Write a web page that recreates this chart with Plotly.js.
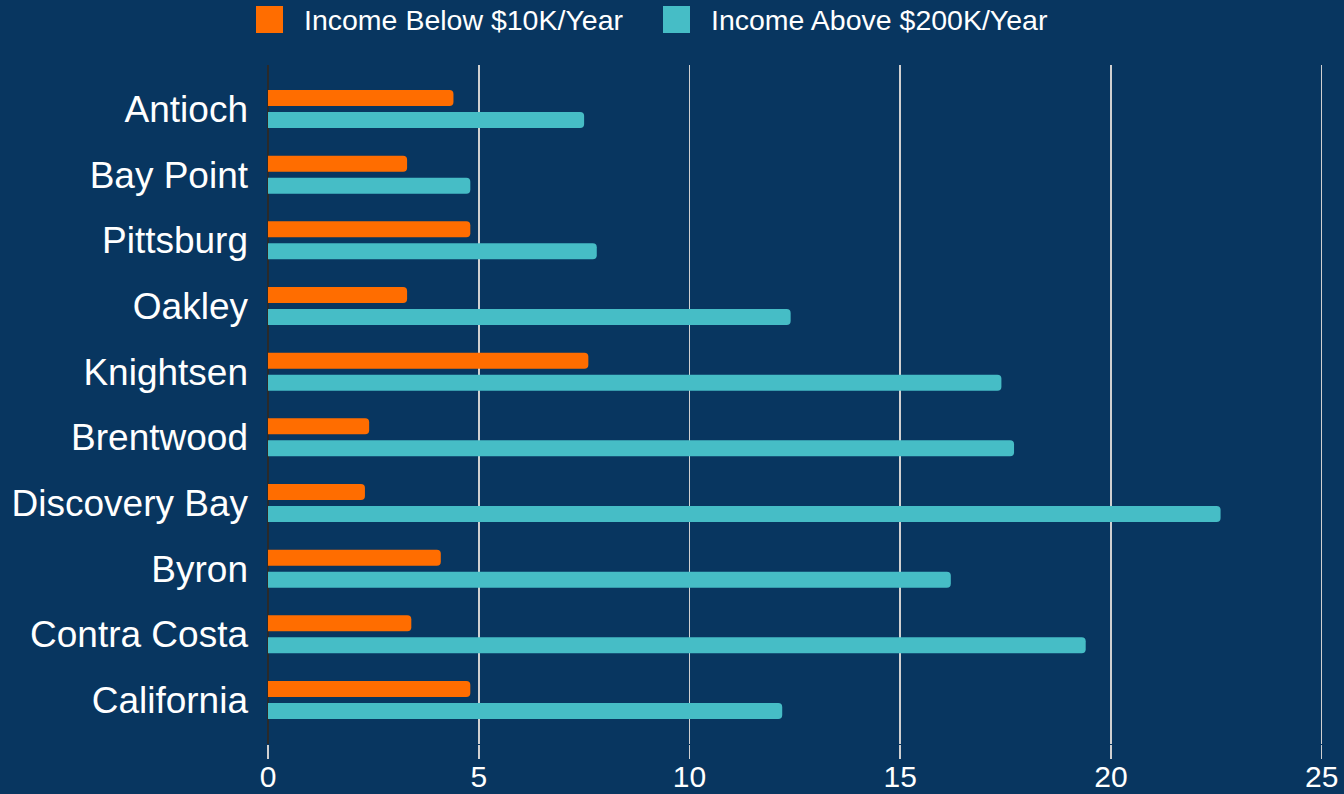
<!DOCTYPE html>
<html>
<head>
<meta charset="utf-8">
<script src="https://cdn.plot.ly/plotly-3.0.1.min.js"></script>
<style>html,body{margin:0;padding:0;background:#083660;}#chart{width:1344px;height:794px;}</style>
</head>
<body>
<div id="chart"></div>
<script>
const categories = ["Antioch","Bay Point","Pittsburg","Oakley","Knightsen","Brentwood","Discovery Bay","Byron","Contra Costa","California"];
const seriesNames = ["Income Below $10K/Year","Income Above $200K/Year"];
const below10k = [4.4, 3.3, 4.8, 3.3, 7.6, 2.4, 2.3, 4.1, 3.4, 4.8];
const above200k = [7.5, 4.8, 7.8, 12.4, 17.4, 17.7, 22.6, 16.2, 19.4, 12.2];
const xTicks = [0, 5, 10, 15, 20, 25];
const colors = ["#ff6d00", "#46bdc6"];

const bg = "#083660";
const traces = [below10k, above200k].map((vals, i) => ({
  type: "bar",
  orientation: "h",
  name: seriesNames[i],
  y: categories,
  x: vals,
  marker: {color: colors[i], cornerradius: 4, line: {width: 0}},
  showlegend: false,
  hoverinfo: "x+y"
}));

// custom legend (larger swatches than Plotly's built-in legend)
const plotW = 1055, plotH = 679, plotL = 268, plotB = 744;
const legendX = [256, 663];
const shapes = [];
const annotations = [];
seriesNames.forEach((name, i) => {
  shapes.push({type: "rect", xref: "paper", yref: "paper",
    x0: (legendX[i] - plotL) / plotW, x1: (legendX[i] + 27 - plotL) / plotW,
    y0: (plotB - 33) / plotH, y1: (plotB - 6) / plotH,
    fillcolor: colors[i], line: {width: 0}, layer: "above"});
  annotations.push({xref: "paper", yref: "paper",
    x: (legendX[i] + 46 - plotL) / plotW, y: (plotB - 19.5) / plotH,
    xanchor: "left", yanchor: "middle", showarrow: false,
    text: name, font: {family: "Liberation Sans, Arial, sans-serif", size: 28.5, color: "#ffffff"}});
});

const layout = {
  width: 1344, height: 794,
  paper_bgcolor: bg, plot_bgcolor: bg,
  margin: {l: 268, r: 21, t: 65, b: 50},
  barmode: "group",
  bargap: 0.33,
  bargroupgap: 0.27,
  showlegend: false,
  font: {family: "Liberation Sans, Arial, sans-serif", color: "#ffffff"},
  xaxis: {
    range: [0, 25.03], tickvals: xTicks, ticktext: xTicks.map(String),
    showgrid: true, gridcolor: "#d0d0d0", gridwidth: 1.5,
    zeroline: true, zerolinecolor: "#2a2a2a", zerolinewidth: 1.5,
    ticks: "outside", ticklen: 14, tickcolor: "#d0d0d0", tickwidth: 1.5,
    ticklabelstandoff: -8,
    tickfont: {family: "Liberation Sans, Arial, sans-serif", size: 30, color: "#ffffff"},
    showline: false, fixedrange: true
  },
  yaxis: {
    type: "category",
    range: [9.67, -0.67],
    showgrid: false, zeroline: false, showline: false,
    ticks: "", ticklabelstandoff: 19,
    tickfont: {family: "Liberation Sans, Arial, sans-serif", size: 37, color: "#ffffff"},
    fixedrange: true
  },
  shapes: shapes,
  annotations: annotations
};

Plotly.newPlot("chart", traces, layout, {displayModeBar: false, staticPlot: true});
</script>
</body>
</html>
